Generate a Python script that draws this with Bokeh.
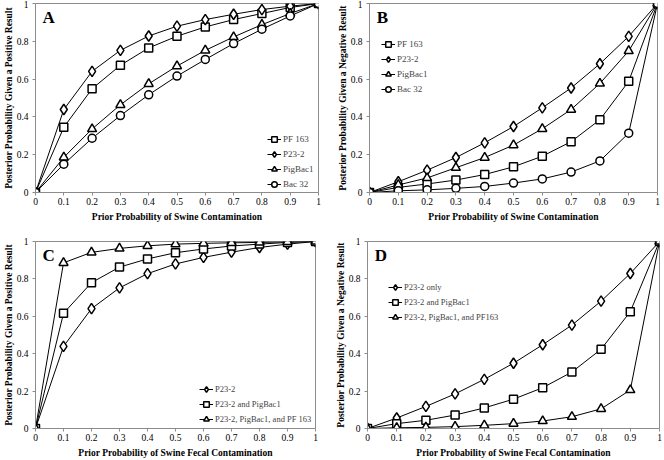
from bokeh.plotting import figure
from bokeh.layouts import column, row
from bokeh.models import Range1d, FixedTicker, Legend, LegendItem, Label
from bokeh.embed import file_html
from bokeh.resources import INLINE

# ---------------- data ----------------
prior = [0, 0.1, 0.2, 0.3, 0.4, 0.5, 0.6, 0.7, 0.8, 0.9, 1]

# Panel A: posterior probability given a positive result
a_pf163 = [0, 0.345, 0.549, 0.673, 0.765, 0.827, 0.876, 0.915, 0.947, 0.979, 1]
a_p232 = [0, 0.439, 0.641, 0.752, 0.828, 0.880, 0.915, 0.943, 0.968, 0.986, 1]
a_pigbac1 = [0, 0.186, 0.336, 0.464, 0.575, 0.669, 0.752, 0.823, 0.888, 0.947, 1]
a_bac32 = [0, 0.150, 0.287, 0.407, 0.517, 0.616, 0.704, 0.788, 0.864, 0.934, 1]

# Panel B: posterior probability given a negative result
b_pf163 = [0, 0.027, 0.045, 0.066, 0.095, 0.136, 0.192, 0.269, 0.385, 0.588, 1]
b_p232 = [0, 0.057, 0.118, 0.185, 0.263, 0.349, 0.448, 0.553, 0.681, 0.826, 1]
b_pigbac1 = [0, 0.040, 0.077, 0.131, 0.185, 0.251, 0.337, 0.439, 0.577, 0.749, 1]
b_bac32 = [0, 0.009, 0.014, 0.022, 0.032, 0.050, 0.072, 0.108, 0.167, 0.314, 1]

# Panel C: combinations, positive result
c_p232 = [0, 0.439, 0.641, 0.752, 0.828, 0.880, 0.915, 0.943, 0.968, 0.986, 1]
c_p232_pig = [0, 0.616, 0.780, 0.863, 0.907, 0.940, 0.960, 0.976, 0.986, 0.995, 1]
c_triple = [0, 0.886, 0.942, 0.963, 0.977, 0.986, 0.990, 0.993, 0.995, 0.998, 1]

# Panel D: combinations, negative result
d_p232 = [0, 0.056, 0.118, 0.185, 0.263, 0.349, 0.448, 0.553, 0.681, 0.829, 1]
d_p232_pig = [0, 0.026, 0.044, 0.072, 0.110, 0.157, 0.218, 0.302, 0.424, 0.625, 1]
d_triple = [0, 0.004, 0.006, 0.010, 0.017, 0.026, 0.040, 0.063, 0.105, 0.206, 1]

x_ticks = [0, 0.1, 0.2, 0.3, 0.4, 0.5, 0.6, 0.7, 0.8, 0.9, 1]
x_tick_labels = ["0", "0.1", "0.2", "0.3", "0.4", "0.5", "0.6", "0.7", "0.8", "0.9", "1"]
y_ticks = [0, 0.2, 0.4, 0.6, 0.8, 1]
y_tick_labels = ["0", "0.2", "0.4", "0.6", "0.8", "1"]

FONT = "Liberation Serif"
GRAY = "#8c8c8c"

MARKER_SIZE = {"square": 8, "diamond": 10.5, "triangle": 9, "circle": 8}


def make_panel(letter, series, xlabel, ylabel, width, height, mb, legend_loc, legend_font):
    p = figure(width=width, height=height, output_backend="svg", toolbar_location=None,
               x_range=Range1d(0, 1), y_range=Range1d(0, 1),
               min_border_left=mb[0], min_border_right=mb[1],
               min_border_top=mb[2], min_border_bottom=mb[3])
    p.xgrid.visible = False
    p.ygrid.visible = False
    p.outline_line_color = GRAY
    p.outline_line_width = 1
    p.background_fill_color = "white"
    p.border_fill_color = "white"

    for ax, ticks, labels in ((p.xaxis[0], x_ticks, x_tick_labels), (p.yaxis[0], y_ticks, y_tick_labels)):
        ax.ticker = FixedTicker(ticks=ticks)
        ax.major_label_overrides = {t: l for t, l in zip(ticks, labels)}
        ax.axis_line_color = GRAY
        ax.major_tick_line_color = GRAY
        ax.major_tick_out = 3
        ax.major_tick_in = 0
        ax.minor_tick_line_color = None
        ax.major_label_text_font = FONT
        ax.major_label_text_font_size = "9.5px"
        ax.major_label_text_color = "black"
        ax.axis_label_text_font = FONT
        ax.axis_label_text_font_size = "9.5px"
        ax.axis_label_text_font_style = "bold"
        ax.axis_label_text_color = "black"
    p.xaxis.major_label_standoff = 2
    p.xaxis.axis_label_standoff = 4
    p.yaxis.major_label_standoff = 4
    p.yaxis.axis_label_standoff = 0
    p.xaxis.axis_label = xlabel
    p.yaxis.axis_label = ylabel
    p.yaxis.major_label_orientation = "horizontal"

    items = []
    for name, ys, marker in series:
        r1 = p.line(prior, ys, line_color="black", line_width=1)
        r2 = p.scatter(prior, ys, marker=marker, size=MARKER_SIZE[marker],
                       fill_color="white", line_color="black", line_width=1.5)
        items.append(LegendItem(label=name, renderers=[r1, r2]))

    leg = Legend(items=items, location=legend_loc)
    leg.label_text_font = FONT
    leg.label_text_font_size = legend_font
    leg.label_height = 14
    leg.glyph_height = 14
    leg.glyph_width = 14
    leg.label_standoff = 2
    leg.spacing = 1
    leg.padding = 0
    leg.margin = 0
    leg.border_line_color = None
    leg.background_fill_alpha = 0
    p.add_layout(leg)

    lab = Label(x=0.025, y=0.975, text=letter, text_font=FONT, text_font_size="17px",
                text_font_style="bold", text_baseline="top", text_color="black")
    p.add_layout(lab)
    return p


xl1 = "Prior Probability of Swine Contamination"
xl2 = "Prior Probability of Swine Fecal Contamination"
ylp = "Posterior Probability Given a Positive Result"
yln = "Posterior Probability Given a Negative Result"

pA = make_panel("A", [("PF 163", a_pf163, "square"), ("P23-2", a_p232, "diamond"),
                      ("PigBac1", a_pigbac1, "triangle"), ("Bac 32", a_bac32, "circle")],
                xl1, ylp, 332, 230, (28, 14, 3, 38), (232, 1), "9px")
pB = make_panel("B", [("PF 163", b_pf163, "square"), ("P23-2", b_p232, "diamond"),
                      ("PigBac1", b_pigbac1, "triangle"), ("Bac 32", b_bac32, "circle")],
                xl1, yln, 332, 230, (37, 7, 3, 38), (12, 96), "9px")
pC = make_panel("C", [("P23-2", c_p232, "diamond"), ("P23-2 and PigBac1", c_p232_pig, "square"),
                      ("P23-2, PigBac1, and PF 163", c_triple, "triangle")],
                xl2, ylp, 332, 230, (32, 17, 11, 30), (164, 2), "8.5px")
pD = make_panel("D", [("P23-2 only", d_p232, "diamond"), ("P23-2 and PigBac1", d_p232_pig, "square"),
                      ("P23-2, PigBac1, and PF163", d_triple, "triangle")],
                xl2, yln, 332, 230, (34, 5, 11, 30), (21, 104), "8.5px")

layout = column(row(pA, pB), row(pC, pD))
open("out.html", "w").write(file_html(layout, INLINE))
